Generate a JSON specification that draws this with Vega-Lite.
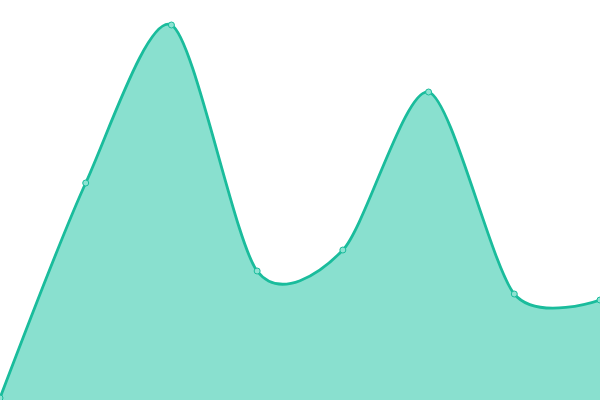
{
  "$schema": "https://vega.github.io/schema/vega-lite/v6.json",
  "width": 600,
  "height": 400,
  "autosize": {"type": "none"},
  "padding": 0,
  "background": "white",
  "config": {"view": {"stroke": null}},
  "data": {"values": [
    {"i": 0, "v": 2},
    {"i": 1, "v": 217},
    {"i": 2, "v": 375},
    {"i": 3, "v": 129},
    {"i": 4, "v": 150},
    {"i": 5, "v": 308},
    {"i": 6, "v": 106},
    {"i": 7, "v": 100}
  ]},
  "encoding": {
    "x": {"field": "i", "type": "quantitative", "scale": {"domain": [0, 7], "nice": false, "zero": false}, "axis": null},
    "y": {"field": "v", "type": "quantitative", "scale": {"domain": [0, 400], "nice": false}, "axis": null}
  },
  "layer": [
    {"mark": {"type": "area", "interpolate": "cardinal", "tension": 0.2, "color": "#89e0cf", "opacity": 1}},
    {"mark": {"type": "line", "interpolate": "cardinal", "tension": 0.2, "color": "#1abc9c", "strokeWidth": 2.8}},
    {"mark": {"type": "point", "filled": true, "fill": "#8de3d2", "stroke": "#1abc9c", "strokeWidth": 1, "size": 36, "opacity": 1}}
  ]
}
